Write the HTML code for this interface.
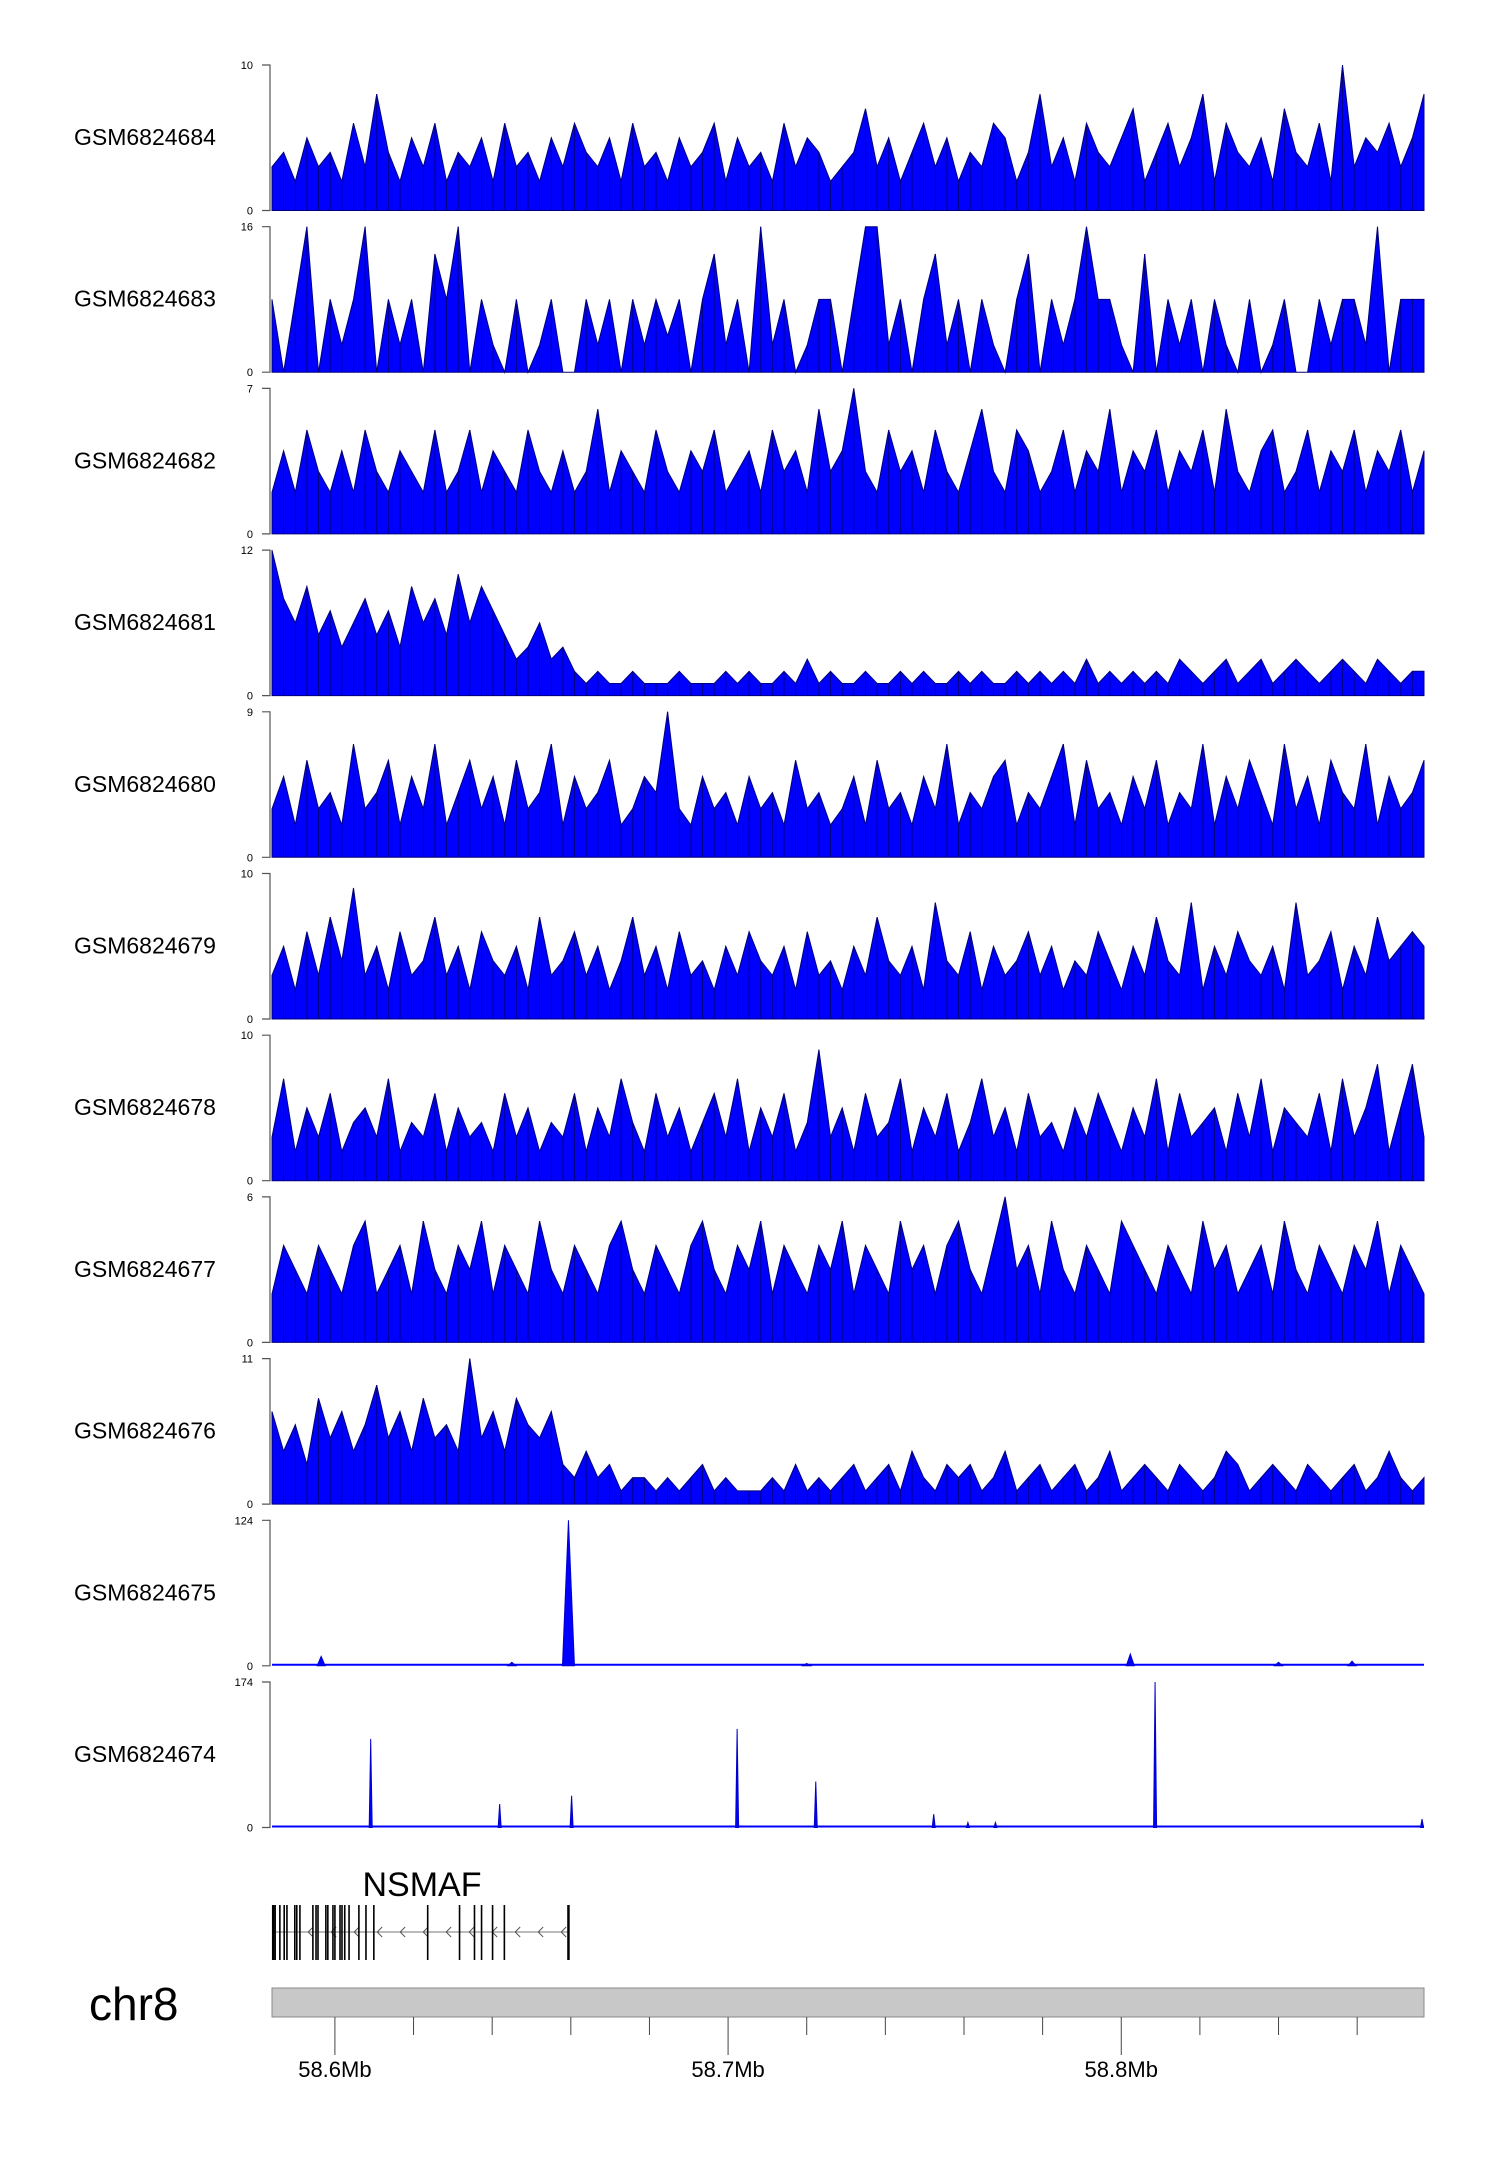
<!DOCTYPE html>
<html><head><meta charset="utf-8"><style>
html,body{margin:0;padding:0;background:#fff;}
svg{display:block;font-family:"Liberation Sans",sans-serif;}
</style></head><body>
<svg id="chart" width="1500" height="2170" viewBox="0 0 1500 2170" xmlns="http://www.w3.org/2000/svg"></svg>
<script>
const sampleNames=["GSM6824684","GSM6824683","GSM6824682","GSM6824681","GSM6824680","GSM6824679","GSM6824678","GSM6824677","GSM6824676","GSM6824675","GSM6824674"];
const yMax=[10,16,7,12,9,10,10,6,11,124,174];
const s684=[3,4,2,5,3,4,2,6,3,8,4,2,5,3,6,2,4,3,5,2,6,3,4,2,5,3,6,4,3,5,2,6,3,4,2,5,3,4,6,2,5,3,4,2,6,3,5,4,2,3,4,7,3,5,2,4,6,3,5,2,4,3,6,5,2,4,8,3,5,2,6,4,3,5,7,2,4,6,3,5,8,2,6,4,3,5,2,7,4,3,6,2,10,3,5,4,6,3,5,8];
const s683=[8,0,8,16,0,8,3,8,16,0,8,3,8,0,13,8,16,0,8,3,0,8,0,3,8,0,0,8,3,8,0,8,3,8,4,8,0,8,13,3,8,0,16,3,8,0,3,8,8,0,8,16,16,3,8,0,8,13,3,8,0,8,3,0,8,13,0,8,3,8,16,8,8,3,0,13,0,8,3,8,0,8,3,0,8,0,3,8,0,0,8,3,8,8,3,16,0,8,8,8];
const s682=[2,4,2,5,3,2,4,2,5,3,2,4,3,2,5,2,3,5,2,4,3,2,5,3,2,4,2,3,6,2,4,3,2,5,3,2,4,3,5,2,3,4,2,5,3,4,2,6,3,4,7,3,2,5,3,4,2,5,3,2,4,6,3,2,5,4,2,3,5,2,4,3,6,2,4,3,5,2,4,3,5,2,6,3,2,4,5,2,3,5,2,4,3,5,2,4,3,5,2,4];
const s681=[12,8,6,9,5,7,4,6,8,5,7,4,9,6,8,5,10,6,9,7,5,3,4,6,3,4,2,1,2,1,1,2,1,1,1,2,1,1,1,2,1,2,1,1,2,1,3,1,2,1,1,2,1,1,2,1,2,1,1,2,1,2,1,1,2,1,2,1,2,1,3,1,2,1,2,1,2,1,3,2,1,2,3,1,2,3,1,2,3,2,1,2,3,2,1,3,2,1,2,2];
const s680=[3,5,2,6,3,4,2,7,3,4,6,2,5,3,7,2,4,6,3,5,2,6,3,4,7,2,5,3,4,6,2,3,5,4,9,3,2,5,3,4,2,5,3,4,2,6,3,4,2,3,5,2,6,3,4,2,5,3,7,2,4,3,5,6,2,4,3,5,7,2,6,3,4,2,5,3,6,2,4,3,7,2,5,3,6,4,2,7,3,5,2,6,4,3,7,2,5,3,4,6];
const s679=[3,5,2,6,3,7,4,9,3,5,2,6,3,4,7,3,5,2,6,4,3,5,2,7,3,4,6,3,5,2,4,7,3,5,2,6,3,4,2,5,3,6,4,3,5,2,6,3,4,2,5,3,7,4,3,5,2,8,4,3,6,2,5,3,4,6,3,5,2,4,3,6,4,2,5,3,7,4,3,8,2,5,3,6,4,3,5,2,8,3,4,6,2,5,3,7,4,5,6,5];
const s678=[3,7,2,5,3,6,2,4,5,3,7,2,4,3,6,2,5,3,4,2,6,3,5,2,4,3,6,2,5,3,7,4,2,6,3,5,2,4,6,3,7,2,5,3,6,2,4,9,3,5,2,6,3,4,7,2,5,3,6,2,4,7,3,5,2,6,3,4,2,5,3,6,4,2,5,3,7,2,6,3,4,5,2,6,3,7,2,5,4,3,6,2,7,3,5,8,2,5,8,3];
const s677=[2,4,3,2,4,3,2,4,5,2,3,4,2,5,3,2,4,3,5,2,4,3,2,5,3,2,4,3,2,4,5,3,2,4,3,2,4,5,3,2,4,3,5,2,4,3,2,4,3,5,2,4,3,2,5,3,4,2,4,5,3,2,4,6,3,4,2,5,3,2,4,3,2,5,4,3,2,4,3,2,5,3,4,2,3,4,2,5,3,2,4,3,2,4,3,5,2,4,3,2];
const s676=[7,4,6,3,8,5,7,4,6,9,5,7,4,8,5,6,4,11,5,7,4,8,6,5,7,3,2,4,2,3,1,2,2,1,2,1,2,3,1,2,1,1,1,2,1,3,1,2,1,2,3,1,2,3,1,4,2,1,3,2,3,1,2,4,1,2,3,1,2,3,1,2,4,1,2,3,2,1,3,2,1,2,4,3,1,2,3,2,1,3,2,1,2,3,1,2,4,2,1,2];
const noiseSeries=[s684,s683,s682,s681,s680,s679,s678,s677,s676];
const peaks675Pos=[58.5965,58.6594,58.8023,58.8587,58.6450,58.7200,58.8400];
const peaks675Val=[8,124,10,4,3,2,3];
const peaks674Pos=[58.6091,58.6419,58.6602,58.7023,58.7223,58.7523,58.7610,58.7680,58.8086,58.8765];
const peaks674Val=[106,28,38,118,55,16,6,6,174,10];
const exonPos=[58.5843,58.5848,58.5860,58.5871,58.5878,58.5898,58.5903,58.5911,58.5944,58.5952,58.5957,58.5977,58.5982,58.5995,58.6000,58.6013,58.6018,58.6025,58.6036,58.6061,58.6079,58.6099,58.6236,58.6317,58.6355,58.6373,58.6401,58.6431,58.6594];
const axisTicks=[58.60,58.62,58.64,58.66,58.68,58.70,58.72,58.74,58.76,58.78,58.80,58.82,58.84,58.86];
const axisLabels=["58.6Mb","58.7Mb","58.8Mb"];
const axisLabelPos=[58.6,58.7,58.8];

const NS="http://www.w3.org/2000/svg";
const svg=document.getElementById('chart');
const X0=272,X1=1424,MB0=58.5840,MB1=58.8770;
const xMb=m=>X0+(m-MB0)/(MB1-MB0)*(X1-X0);
const trackTop=k=>65+k*161.7, TH=145.5;
function el(tag,attrs,parent){const e=document.createElementNS(NS,tag);for(const k in attrs)e.setAttribute(k,attrs[k]);(parent||svg).appendChild(e);return e;}

sampleNames.forEach((name,k)=>{
  const top=trackTop(k),bot=top+TH;
  const g=el('g',{});
  
  
  const yS=v=>bot-v/yMax[k]*TH;
  const lab=el('text',{x:74,y:top+80,'font-size':23,fill:'#000'},g);lab.textContent=name;
  
  
  const ax=el('path',{d:`M262 ${top}H270V${bot}H262`,stroke:'#555',fill:'none','stroke-width':1.2},g);
  
  
  const t1=el('text',{x:253,y:top+4,'font-size':11,'text-anchor':'end'},g);t1.textContent=yMax[k];
  
  
  const t0=el('text',{x:253,y:bot+4,'font-size':11,'text-anchor':'end'},g);t0.textContent='0';
  
  
  if(k<9){
    const d=noiseSeries[k],n=d.length;
    let p=`M${X0} ${bot}`, lines='';
    d.forEach((v,i)=>{const x=(X0+i*(X1-X0)/(n-1)).toFixed(1);p+=`L${x} ${yS(v).toFixed(1)}`;lines+=`M${x} ${bot}V${yS(v).toFixed(1)}`;});
    p+=`L${X1} ${bot}Z`;
    const a=el('path',{d:p,fill:'#0000ff',stroke:'#00007a','stroke-width':1},g);
    
    
    const l=el('path',{d:lines,stroke:'#00008a','stroke-width':1},g);
    
    
  } else {
    const pos=k==9?peaks675Pos:peaks674Pos, val=k==9?peaks675Val:peaks674Val;
    const b=el('path',{d:`M${X0} ${bot-1}H${X1}`,stroke:'#0000ff','stroke-width':2},g);
    
    
    pos.forEach((m,i)=>{
      const x=xMb(m),hw=(k==9&&val[i]>50)?6:(k==9?4:1.5);
      const pk=el('path',{d:`M${x-hw} ${bot}L${x} ${yS(val[i])}L${x+hw} ${bot}Z`,fill:'#0000ff',stroke:'#0000cc','stroke-width':1},g);
      
      
    });
  }
});

// gene model
const gg=el('g',{});


const gl=el('text',{x:422,y:1896,'font-size':34,'text-anchor':'middle'},gg);gl.textContent='NSMAF';


const g0=xMb(exonPos[0]),g1=xMb(exonPos[exonPos.length-1]);
const ln=el('path',{d:`M${g0} 1932H${g1}`,stroke:'#777','stroke-width':1},gg);


for(let x=g0+35;x<g1;x+=23){const ar=el('path',{d:`M${x+5} 1927L${x} 1932L${x+5} 1937`,stroke:'#555',fill:'none','stroke-width':1},gg);
  
  }
exonPos.forEach((m,i)=>{const ex=el('path',{d:`M${xMb(m)} 1905V1960`,stroke:'#000','stroke-width':(i==0||i==exonPos.length-1)?2.5:1.6},gg);
  
  });

// chromosome axis
const ch=el('text',{x:89,y:2020,'font-size':46},svg);ch.textContent='chr8';


const bar=el('rect',{x:X0,y:1988,width:X1-X0,height:29,fill:'#c8c8c8',stroke:'#888','stroke-width':1},svg);


axisTicks.forEach(m=>{const major=axisLabelPos.some(p=>Math.abs(p-m)<1e-6);
  const t=el('path',{d:`M${xMb(m)} 2017V${major?2055:2035}`,stroke:'#444','stroke-width':1},svg);
  
  });
axisLabels.forEach((s,i)=>{const t=el('text',{x:xMb(axisLabelPos[i]),y:2077,'font-size':22,'text-anchor':'middle'},svg);t.textContent=s;
  
  });
</script>
</body></html>
